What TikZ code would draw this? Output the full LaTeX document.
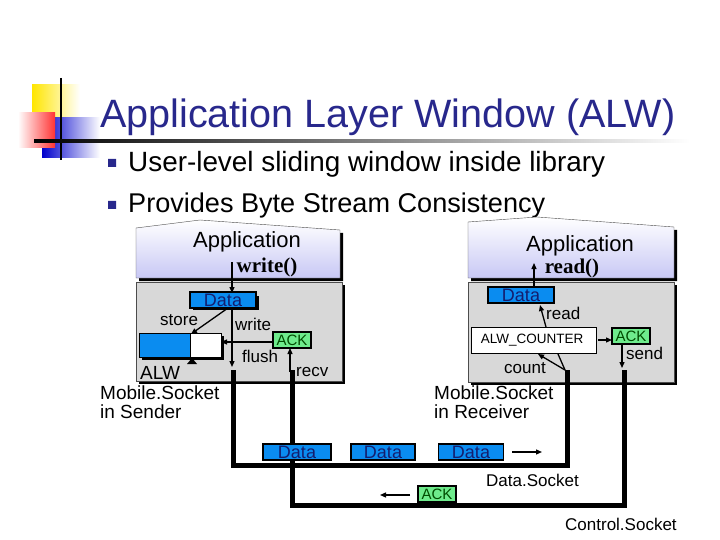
\documentclass[tikz,border=0pt]{standalone}
\usepackage{fontspec}
\setmainfont{Liberation Sans}
\newfontfamily\serifb{Liberation Serif}
\usetikzlibrary{arrows.meta,shadows}
\definecolor{ttl}{RGB}{40,40,140}
\definecolor{dblue}{RGB}{10,140,240}
\definecolor{navy}{RGB}{20,30,110}
\definecolor{ackg}{RGB}{110,235,140}
\definecolor{panel}{RGB}{216,216,216}
\definecolor{lav}{RGB}{200,200,245}
\tikzset{
 fs/.style={font=\fontsize{#1}{#1}\selectfont},
 lbl/.style={fs=17,inner sep=0pt},
 datab/.style={draw=black,line width=1.5pt,fill=dblue,text=navy,fs=18,inner sep=0pt,minimum height=16pt},
 ackb/.style={draw=black,line width=1.5pt,fill=ackg,text=black!70!green,fs=15,inner sep=0pt,minimum height=16pt,minimum width=38pt},
 arr/.style={-{Triangle[length=6pt,width=5pt]},line width=1.3pt},
 thick5/.style={line width=5pt},
 fnc/.style={font=\serifb\bfseries\fontsize{21}{21}\selectfont,inner sep=0pt},
}
\begin{document}
\begin{tikzpicture}[x=1pt,y=-1pt]
\useasboundingbox (0,0) rectangle (720,540);
% logo
\shade[left color=yellow!80!orange,right color=white] (32,85) rectangle (80,125);
\shade[left color=blue!80!black,right color=white] (42,118) rectangle (100,158);
\shade[right color=red!80,left color=white] (18,113) rectangle (55,148);
\draw[line width=1.5pt] (61,78) -- (61,160);
\shade[left color=black,right color=white] (34,140) rectangle (690,142.5);
\node[anchor=base west,text=ttl,inner sep=0pt] (title) at (100,128) {\resizebox{575pt}{!}{Application Layer Window (ALW)}};
% bullets
\fill[ttl] (108,159) rectangle (116,167) (108,201) rectangle (116,209);
\node[anchor=base west,inner sep=0pt] (b1) at (128,172) {\resizebox{477pt}{!}{User-level sliding window inside library}};
\node[anchor=base west,inner sep=0pt] (b2) at (128,213) {\resizebox{417pt}{!}{Provides Byte Stream Consistency}};
% left app
\fill (139,231) -- (203,223) -- (343,233) -- (343,281) -- (139,281) -- cycle;
\shade[top color=white,bottom color=lav,draw=black!70] (136,228) -- (200,220) -- (340,230) -- (340,278) -- (136,278) -- cycle;
\node[fs=22,inner sep=0pt] (appL) at (247,242) {Application};
\node[fnc] (wr) at (267,267) {write()};
% left panel
\fill (139,285) rectangle (345,384);
\draw[fill=panel,draw=black!70] (136,282) rectangle (342,381);
\fill (193,296) rectangle (259,310);
\node[datab,minimum width=66pt] (dL) at (223,300) {Data};
\fill (142,336) rectangle (224,360);
\draw[fill=dblue,draw=black] (139,333) rectangle (190,357);
\draw[fill=white,draw=black] (190,333) rectangle (221,357);
\coordinate (alwR) at (221,342);
\fill (192,358) -- (187,364) -- (197,364) -- cycle;
\node[ackb] (ackL) at (292,340) {ACK};
\node[lbl,anchor=base west] (store) at (160,325) {store};
\node[lbl,anchor=base west] (write) at (235,330) {write};
\node[lbl,anchor=base west] (flush) at (242,362) {flush};
\node[lbl,anchor=base west] (recv) at (296,376) {recv};
\node[fs=19,inner sep=0pt,anchor=base west] (alw) at (140,379) {ALW};
\node[fs=19,inner sep=0pt,anchor=north west,align=left] (msS) at (100,386) {Mobile.Socket\\in Sender};
\draw[arr] (232,262) -- (232,293);
\draw[arr] (232,308) -- (232,367);
\draw[arr] (228,308) -- (191,334);
\draw[arr] (273,342) -- (alwR);
\draw[arr] (290,372) -- (290,348);
% right app
\fill (471,225) -- (540,220) -- (677,230) -- (677,281) -- (471,281) -- cycle;
\shade[top color=white,bottom color=lav,draw=black!70] (468,222) -- (537,217) -- (674,227) -- (674,278) -- (468,278) -- cycle;
\node[fs=22,inner sep=0pt] (appR) at (580,246) {Application};
\node[fnc] (rd) at (572,268) {read()};
% right panel
\fill (471,285) rectangle (677,385);
\draw[fill=panel,draw=black!70] (468,282) rectangle (674,382);
\node[datab,minimum width=66pt] (dR) at (521,295) {Data};
\draw[fill=white,draw=black] (471,327) rectangle (596,353);
\node[fs=13.5,inner sep=0pt] (cnt) at (532,340) {ALW\_COUNTER};
\node[ackb] (ackR) at (631,336) {ACK};
\node[lbl,anchor=base west] (read) at (546,319) {read};
\node[lbl,anchor=base west] (send) at (626,359) {send};
\node[lbl,anchor=base west] (count) at (504,373) {count};
\node[fs=19,inner sep=0pt,anchor=north west,align=left] (msR) at (434,386) {Mobile.Socket\\in Receiver};
\draw[arr] (534,287) -- (534,263);
\draw[arr] (546,327) -- (540,305);
\draw[arr] (598,340) -- (612,340);
\draw[arr] (622,345) -- (622,368);
\draw[arr] (565,370) -- (538,354);
\draw[line width=1.3pt] (565,370) -- (558,354);
% sockets
\draw[thick5] (292,370) -- (292,505) -- (624,505) -- (624,370);
\draw[thick5] (233,370) -- (233,465) -- (567,465) -- (567,370);
\node[datab,minimum width=68pt] (d1) at (297,452) {Data};
\node[datab,minimum width=64pt] (d2) at (383,452) {Data};
\node[datab,minimum width=65pt] (d3) at (471,452) {Data};
\draw[arr] (512,452) -- (542,452);
\node[lbl,anchor=base west] (ds) at (486,486) {Data.Socket};
\node[ackb] (ack3) at (437,494) {ACK};
\draw[arr] (410,495) -- (380,495);
\node[lbl,anchor=base west] (cs) at (565,530) {Control.Socket};
\end{tikzpicture}
\end{document}
